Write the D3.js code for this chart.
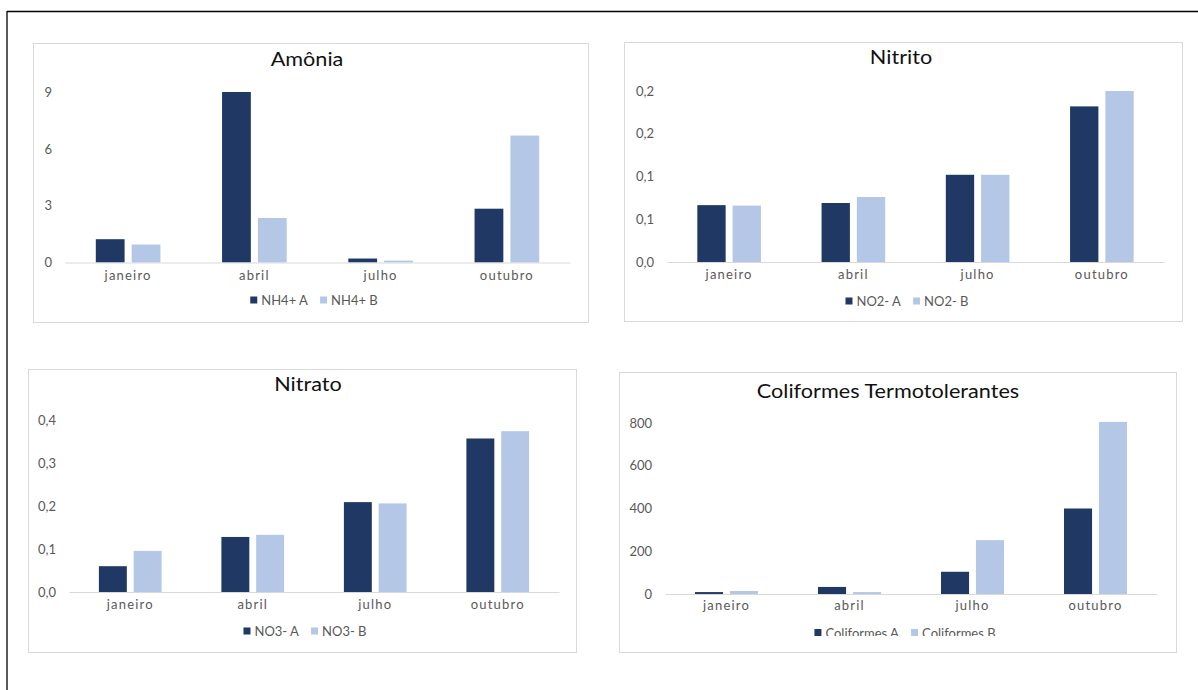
<!DOCTYPE html>
<html>
<head>
<meta charset="utf-8">
<script src="https://cdn.jsdelivr.net/npm/d3@7"></script>
<style>
  html, body { margin: 0; padding: 0; background: #fff; }
  svg { display: block; }
  text { font-family: Lato, "Open Sans", sans-serif; }
</style>
</head>
<body>
<svg id="chart" width="1198" height="690"></svg>
<script>
// Sampling months
const months = ["janeiro", "abril", "julho", "outubro"];

// Amônia (NH4+)
const amoniaA = [1.23, 9.0, 0.21, 2.84];
const amoniaB = [0.95, 2.35, 0.10, 6.70];
const amoniaTicks = [0, 3, 6, 9];
const amoniaTickLabels = ["0", "3", "6", "9"];
const amoniaSeries = ["NH4+ A", "NH4+ B"];

// Nitrito (NO2-)
const nitritoA = [0.0665, 0.069, 0.102, 0.182];
const nitritoB = [0.066, 0.076, 0.102, 0.200];
const nitritoTicks = [0, 0.05, 0.10, 0.15, 0.20];
const nitritoTickLabels = ["0,0", "0,1", "0,1", "0,2", "0,2"];
const nitritoSeries = ["NO2- A", "NO2- B"];

// Nitrato (NO3-)
const nitratoA = [0.060, 0.128, 0.209, 0.357];
const nitratoB = [0.0955, 0.133, 0.206, 0.374];
const nitratoTicks = [0, 0.1, 0.2, 0.3, 0.4];
const nitratoTickLabels = ["0,0", "0,1", "0,2", "0,3", "0,4"];
const nitratoSeries = ["NO3- A", "NO3- B"];

// Coliformes termotolerantes
const coliA = [9, 33, 104, 400];
const coliB = [14, 9, 252, 805];
const coliTicks = [0, 200, 400, 600, 800];
const coliTickLabels = ["0", "200", "400", "600", "800"];
const coliSeries = ["Coliformes A", "Coliformes B"];

const colorA = "#203864";
const colorB = "#b4c7e7";

const svg = d3.select("#chart");

// frame lines along the top and left edge of the page
svg.append("line").attr("x1", 7).attr("y1", 11.5).attr("x2", 1198).attr("y2", 11.5)
  .attr("stroke", "#000").attr("stroke-width", 1.3);
svg.append("line").attr("x1", 7).attr("y1", 11).attr("x2", 7).attr("y2", 690)
  .attr("stroke", "#000").attr("stroke-width", 1.3);

const panels = [
  { title: "Amônia", a: amoniaA, b: amoniaB, ticks: amoniaTicks, tickLabels: amoniaTickLabels, names: amoniaSeries,
    box: [33, 43, 588, 322], x0: 65, x1: 570, yTop: 92, yBase: 262.5, titleX: 307, titleY: 59, xlabY: 275, legY: 300, legX: 314 },
  { title: "Nitrito", a: nitritoA, b: nitritoB, ticks: nitritoTicks, tickLabels: nitritoTickLabels, names: nitritoSeries,
    box: [624, 42, 1182, 321], x0: 667, x1: 1164, yTop: 91, yBase: 262, titleX: 901, titleY: 57, xlabY: 274, legY: 301, legX: 907 },
  { title: "Nitrato", a: nitratoA, b: nitratoB, ticks: nitratoTicks, tickLabels: nitratoTickLabels, names: nitratoSeries,
    box: [28, 369, 576, 652], x0: 69, x1: 559, yTop: 420, yBase: 592, titleX: 308, titleY: 384, xlabY: 604, legY: 631, legX: 305 },
  { title: "Coliformes Termotolerantes", a: coliA, b: coliB, ticks: coliTicks, tickLabels: coliTickLabels, names: coliSeries,
    box: [619, 372, 1176, 652], x0: 665, x1: 1157, yTop: 423, yBase: 594, titleX: 888, titleY: 391, xlabY: 605, legY: 632.5, legX: 905, legClip: 636 }
];

panels.forEach((p, pi) => {
  const g = svg.append("g");
  const [bx0, by0, bx1, by1] = p.box;

  g.append("rect")
    .attr("x", bx0 + 0.5).attr("y", by0 + 0.5)
    .attr("width", bx1 - bx0).attr("height", by1 - by0)
    .attr("fill", "#fff").attr("stroke", "#d9d9d9").attr("stroke-width", 1);

  // chart title, slightly widened
  g.append("text")
    .attr("transform", `translate(${p.titleX},${p.titleY}) scale(1.14,1)`)
    .attr("text-anchor", "middle").attr("dominant-baseline", "central")
    .attr("font-size", 19).attr("fill", "#111")
    .text(p.title);

  const x = d3.scaleBand().domain(months).range([p.x0, p.x1]).padding(0);
  const maxTick = p.ticks[p.ticks.length - 1];
  const y = d3.scaleLinear().domain([0, maxTick]).range([p.yBase, p.yTop]);

  const bw = x.bandwidth();
  const barW = bw * 0.228;
  const gap = bw * 0.056;

  // y axis labels (no line, no gridlines)
  const yAxis = d3.axisLeft(y).tickValues(p.ticks).tickSize(0).tickPadding(13)
    .tickFormat((d, i) => p.tickLabels[i]);
  const ya = g.append("g").attr("transform", `translate(${p.x0},0)`).call(yAxis);
  ya.select(".domain").remove();
  ya.selectAll("text").attr("font-size", 13).attr("fill", "#595959")
    .style("font-family", "Lato, 'Open Sans', sans-serif");

  // bars
  const rows = months.map((m, i) => ({ m, A: p.a[i], B: p.b[i] }));
  const grp = g.append("g");
  ["A", "B"].forEach((k, ki) => {
    grp.selectAll(null).data(rows).enter().append("rect")
      .attr("x", d => x(d.m) + bw / 2 + (ki === 0 ? -gap / 2 - barW : gap / 2))
      .attr("y", d => y(d[k]))
      .attr("width", barW)
      .attr("height", d => y(0) - y(d[k]))
      .attr("fill", ki === 0 ? colorA : colorB);
  });

  // category axis
  const xAxis = d3.axisBottom(x).tickSize(0).tickSizeOuter(0).tickPadding(0);
  const xa = g.append("g").attr("transform", `translate(0,${p.yBase})`).call(xAxis);
  xa.select(".domain").attr("stroke", "#d9d9d9").attr("stroke-width", 1.2);
  xa.selectAll("text")
    .attr("y", p.xlabY - p.yBase).attr("dy", null)
    .attr("dominant-baseline", "central")
    .attr("font-size", 13).attr("fill", "#595959")
    .attr("letter-spacing", 1.2)
    .style("font-family", "Lato, 'Open Sans', sans-serif");

  // legend (the last one is cut off by the bottom of its plot area)
  const legWrap = g.append("g");
  if (p.legClip) {
    const cid = "legclip" + pi;
    svg.append("clipPath").attr("id", cid).append("rect")
      .attr("x", bx0).attr("y", by0).attr("width", bx1 - bx0).attr("height", p.legClip - by0);
    legWrap.attr("clip-path", `url(#${cid})`);
  }
  const leg = legWrap.append("g");
  const items = leg.selectAll("g").data(p.names).enter().append("g");
  items.append("rect").attr("width", 7).attr("height", 7).attr("y", -3.5)
    .attr("fill", (d, i) => i === 0 ? colorA : colorB);
  items.append("text").attr("x", 11).attr("dominant-baseline", "central")
    .attr("font-size", 13).attr("fill", "#595959").text(d => d);
  let cx = 0;
  const widths = [];
  items.each(function () { widths.push(this.getBBox().width); });
  items.attr("transform", (d, i) => {
    const t = `translate(${cx},0)`;
    cx += widths[i] + 12;
    return t;
  });
  const total = cx - 12;
  leg.attr("transform", `translate(${p.legX - total / 2},${p.legY})`);
});
</script>
</body>
</html>
